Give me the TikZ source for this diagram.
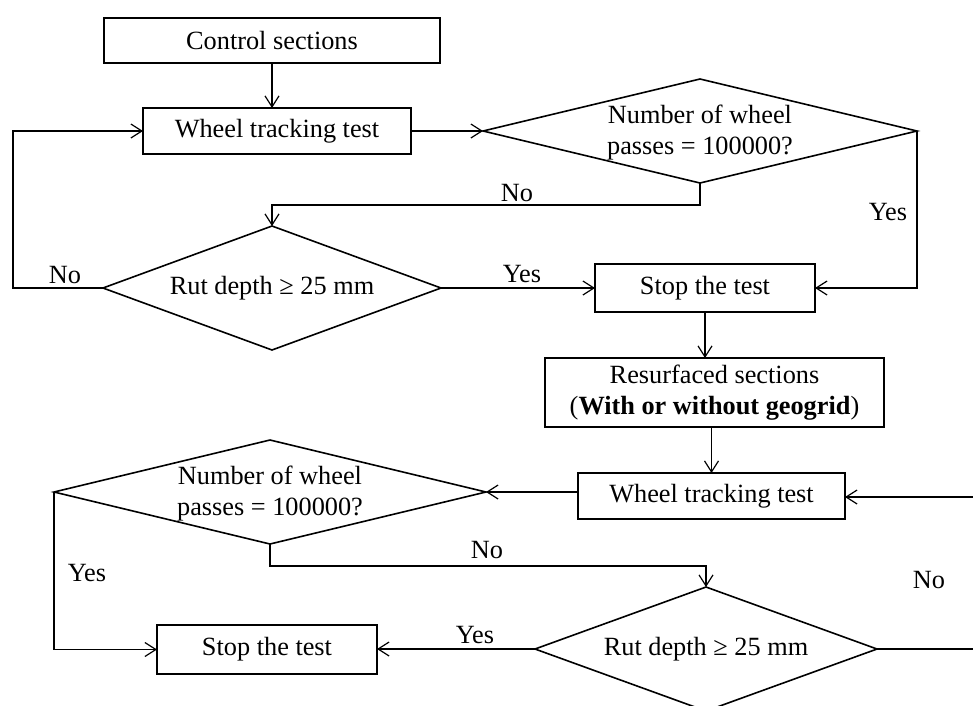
\documentclass[tikz,border=0pt]{standalone}
\usepackage{fontspec}
\setmainfont{Liberation Serif}
\usetikzlibrary{shapes.geometric,arrows.meta}
\begin{document}
\begin{tikzpicture}[x=1pt,y=-1pt,
  font=\fontsize{26.3}{31}\selectfont,
  box/.style={draw,line width=1.6pt,rectangle,inner sep=0pt,outer sep=0pt,align=center},
  dia/.style={draw,line width=1.6pt,diamond,inner sep=0pt,outer sep=0pt},
  txt/.style={inner sep=0pt,align=center},
  lbl/.style={inner sep=0pt},
  arr/.style={line width=1.2pt,-{Straight Barb[length=11pt,width=14pt,line width=1.2pt]}},
  ln/.style={line width=1.2pt}]
\useasboundingbox (0,0) rectangle (973,705);
% boxes
\node[box,minimum width=336pt,minimum height=45pt] (ctrl) at (272,40.5) {Control sections};
\node[box,minimum width=268pt,minimum height=46pt] (wt1) at (277,131) {Wheel tracking test};
\node[box,minimum width=220pt,minimum height=48pt] (stop1) at (705,288) {Stop the test};
\node[box,minimum width=339pt,minimum height=69pt] (res) at (714.5,392.5) {Resurfaced sections\\(\textbf{With or without geogrid})};
\node[box,minimum width=267pt,minimum height=46pt] (wt2) at (711.5,496) {Wheel tracking test};
\node[box,minimum width=220pt,minimum height=49pt] (stop2) at (267,649.5) {Stop the test};
% diamonds
\node[dia,minimum width=434pt,minimum height=104pt] (d1) at (700,131) {};
\node[txt] (d1t) at (700,132.5) {Number of wheel\\passes = 100000?};
\node[dia,minimum width=338pt,minimum height=124pt] (d2) at (272,288) {};
\node[txt] (d2t) at (272,288) {Rut depth ≥ 25 mm};
\node[dia,minimum width=432pt,minimum height=104pt] (d3) at (270,492) {};
\node[txt] (d3t) at (270,494) {Number of wheel\\passes = 100000?};
\node[dia,minimum width=342pt,minimum height=124pt] (d4) at (706,649) {};
\node[txt] (d4t) at (706,649) {Rut depth ≥ 25 mm};
% labels
\node[lbl] (l1) at (517,193) {No};
\node[lbl] (l2) at (522,274) {Yes};
\node[lbl] (l3) at (888,212) {Yes};
\node[lbl] (l4) at (65,275) {No};
\node[lbl] (l5) at (487,550) {No};
\node[lbl] (l6) at (87,573) {Yes};
\node[lbl] (l7) at (475,635) {Yes};
\node[lbl] (l8) at (929,580) {No};
% helper coordinates
\coordinate (lb) at (13,288);
\coordinate (rc1) at (990,649);
\coordinate (rc2) at (990,497);
% connectors
\draw[arr] (ctrl.south) -- (ctrl.south |- wt1.north);
\draw[arr] (wt1.east) -- (d1.west);
\draw[arr] (d1.south) |- ([yshift=21pt]d2.north) -- (d2.north);
\draw[arr] (d2.west) -- (lb) |- (wt1.west);
\draw[arr] (d2.east) -- (stop1.west);
\draw[arr] (d1.east) |- (stop1.east);
\draw[arr] (stop1.south) -- (stop1.south |- res.north);
\draw[arr] (wt2.north |- res.south) -- (wt2.north);
\draw[arr] (d3.east -| wt2.west) -- (d3.east);
\draw[arr] (d4.east) -- (rc1) -- (rc2) -- (wt2.east |- rc2);
\draw[arr] (d3.south) |- ([yshift=21pt]d4.north) -- (d4.north);
\draw[arr] (d4.west) -- (stop2.east |- d4.west);
\draw[arr] (d3.west) |- (stop2.west);
\end{tikzpicture}
\end{document}
